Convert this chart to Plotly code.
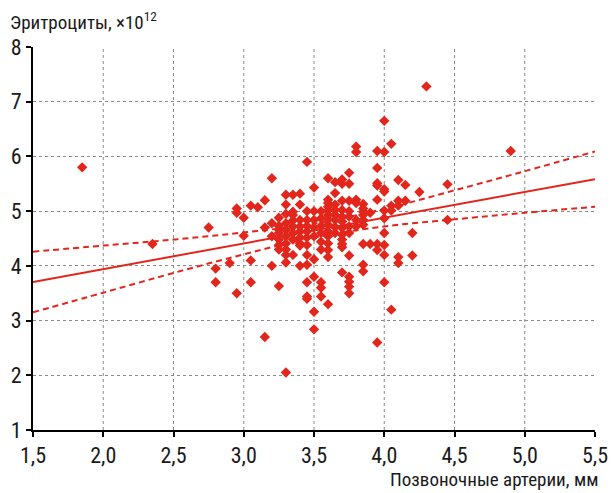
import plotly.graph_objects as go

# Vertebral artery diameter (mm) vs erythrocytes (x10^12)
artery_mm = [
    1.85, 2.35, 2.75, 2.8, 2.8, 2.9, 2.95, 2.95, 2.95, 3.0, 3.0,
    3.05, 3.05, 3.05, 3.1, 3.15, 3.15, 3.15,
    3.2, 3.2, 3.2, 3.2,
    3.25, 3.25, 3.25, 3.25, 3.25, 3.25, 3.25, 3.25,
    3.3, 3.3, 3.3, 3.3, 3.3, 3.3, 3.3, 3.3, 3.3, 3.3, 3.3,
    3.35, 3.35, 3.35, 3.35, 3.35, 3.35, 3.35, 3.35,
    3.4, 3.4, 3.4, 3.4, 3.4, 3.4, 3.4, 3.4, 3.4,
    3.45, 3.45, 3.45, 3.45, 3.45, 3.45, 3.45, 3.45, 3.45, 3.45, 3.45, 3.45,
    3.5, 3.5, 3.5, 3.5, 3.5, 3.5, 3.5, 3.5, 3.5,
    3.55, 3.55, 3.55, 3.55, 3.55, 3.55, 3.55, 3.55, 3.55,
    3.6, 3.6, 3.6, 3.6, 3.6, 3.6, 3.6, 3.6, 3.6, 3.6, 3.6, 3.6, 3.6, 3.6,
    3.65, 3.65, 3.65, 3.65, 3.65, 3.65, 3.65, 3.65,
    3.7, 3.7, 3.7, 3.7, 3.7, 3.7, 3.7, 3.7, 3.7, 3.7, 3.7, 3.7,
    3.75, 3.75, 3.75, 3.75, 3.75, 3.75, 3.75, 3.75, 3.75, 3.75, 3.75, 3.75,
    3.8, 3.8, 3.8, 3.8, 3.8, 3.8,
    3.85, 3.85, 3.85, 3.85, 3.85, 3.85, 3.85, 3.85, 3.85,
    3.9, 3.9,
    3.95, 3.95, 3.95, 3.95, 3.95, 3.95, 3.95, 3.95,
    4.0, 4.0, 4.0, 4.0, 4.0, 4.0, 4.0, 4.0, 4.0, 4.0,
    4.05, 4.05, 4.05, 4.05,
    4.1, 4.1, 4.1, 4.1, 4.1,
    4.15, 4.15, 4.2, 4.2, 4.25, 4.3, 4.45, 4.45, 4.9,
]
erythrocytes = [
    5.8, 4.4, 4.7, 3.95, 3.7, 4.05, 5.05, 4.97, 3.5, 4.88, 4.55,
    5.1, 4.1, 3.7, 5.07, 5.2, 4.7, 2.7,
    5.6, 4.78, 4.0, 4.54,
    4.88, 4.73, 4.66, 4.6, 4.48, 4.38, 4.3, 3.63,
    5.3, 5.12, 4.95, 4.78, 4.66, 4.54, 4.41, 4.3, 4.2, 4.06, 2.05,
    5.3, 4.99, 4.93, 4.83, 4.72, 4.6, 4.48, 4.2,
    5.32, 5.12, 4.84, 4.72, 4.63, 4.52, 4.41, 4.37, 4.0,
    5.9, 5.0, 4.84, 4.73, 4.63, 4.52, 4.38, 4.2, 4.02, 3.7, 3.44, 3.4,
    5.43, 5.0, 4.84, 4.7, 4.54, 4.12, 3.8, 3.16, 2.84,
    5.0, 4.87, 4.73, 4.6, 4.44, 4.3, 3.7, 3.6, 3.44,
    5.6, 5.21, 5.15, 5.08, 5.01, 4.93, 4.85, 4.75, 4.63, 4.54, 4.41, 4.29, 4.16, 3.3,
    5.53, 5.33, 5.12, 5.02, 4.93, 4.84, 4.71, 4.6,
    5.58, 5.5, 5.19, 5.02, 4.9, 4.81, 4.69, 4.57, 4.48, 4.4, 4.34, 3.88,
    5.7, 5.5, 5.19, 5.0, 4.9, 4.72, 4.6, 4.19, 3.8, 3.71, 3.62, 3.5,
    6.18, 6.08, 5.21, 5.15, 4.84, 4.72,
    5.13, 5.05, 4.99, 4.93, 4.84, 4.75, 4.4, 4.02, 3.9,
    4.97, 4.4,
    6.1, 5.79, 5.51, 5.47, 5.21, 4.4, 4.29, 2.6,
    6.65, 6.08, 5.4, 5.36, 5.01, 4.87, 4.6, 4.38, 4.2, 3.7,
    6.23, 5.1, 5.01, 3.2,
    5.57, 5.19, 5.1, 4.16, 4.05,
    5.48, 5.19, 4.6, 4.19, 5.35, 7.28, 5.49, 4.84, 6.1,
]

# Regression line and its confidence band
fit_x = [1.5, 5.5]
fit_y = [3.705, 5.585]
band_x = [1.5, 2.0, 2.5, 3.0, 3.5, 4.0, 4.5, 5.0, 5.5]
band_upper = [4.26, 4.37, 4.48, 4.61, 4.77, 5.04, 5.38, 5.73, 6.09]
band_lower = [3.15, 3.51, 3.87, 4.21, 4.52, 4.72, 4.85, 4.97, 5.08]

x_ticks = [1.5, 2.0, 2.5, 3.0, 3.5, 4.0, 4.5, 5.0, 5.5]
x_tick_text = ["1,5", "2,0", "2,5", "3,0", "3,5", "4,0", "4,5", "5,0", "5,5"]
y_ticks = [1, 2, 3, 4, 5, 6, 7, 8]

RED = "#e3261c"
INK = "#1a1a1a"
FONT = "Roboto Condensed, DejaVu Sans Condensed, Liberation Sans Narrow, Roboto, sans-serif"

fig = go.Figure()
fig.add_trace(go.Scatter(
    x=artery_mm, y=erythrocytes, mode="markers",
    marker=dict(symbol="diamond", size=8, color=RED, line=dict(width=0)),
    showlegend=False, hoverinfo="x+y", cliponaxis=False,
))
fig.add_trace(go.Scatter(
    x=fit_x, y=fit_y, mode="lines",
    line=dict(color=RED, width=2), showlegend=False,
))
for band in (band_upper, band_lower):
    fig.add_trace(go.Scatter(
        x=band_x, y=band, mode="lines", line_shape="spline",
        line=dict(color=RED, width=2, dash="6px,4px"), showlegend=False,
    ))

# Dotted vertical grid lines at the inner x ticks only
grid_color = "#8a8a8a"
shapes = [
    dict(type="line", xref="x", yref="paper", x0=v, x1=v, y0=0, y1=1,
         line=dict(color=grid_color, width=1, dash="dot"), layer="below")
    for v in x_ticks[1:-1]
]

fig.update_xaxes(
    range=[1.5, 5.5], tickvals=x_ticks, ticktext=x_tick_text,
    showline=True, linecolor="black", linewidth=2,
    ticks="outside", ticklen=5, tickwidth=2, tickcolor="black",
    tickfont=dict(family=FONT, size=22, color=INK),
    zeroline=False, showgrid=False, automargin=False,
)
fig.update_yaxes(
    range=[1, 8], tickvals=y_ticks,
    showline=True, linecolor="black", linewidth=2,
    ticks="outside", ticklen=5, tickwidth=2, tickcolor="black",
    tickfont=dict(family=FONT, size=22, color=INK),
    zeroline=False, showgrid=True, gridcolor=grid_color, gridwidth=1,
    griddash="dot", automargin=False,
)
fig.update_layout(
    width=611, height=493,
    margin=dict(l=33, r=16, t=47, b=63),
    plot_bgcolor="white", paper_bgcolor="white",
    font=dict(family=FONT, color=INK),
    shapes=shapes,
    annotations=[
        dict(text="Эритроциты, ×10<sup>12</sup>", xref="paper", yref="paper",
             x=-0.044, y=1.066, xanchor="left", yanchor="middle",
             showarrow=False, font=dict(family=FONT, size=19, color=INK)),
        dict(text="Позвоночные артерии, мм", xref="paper", yref="paper",
             x=1.009, y=-0.13, xanchor="right", yanchor="middle",
             showarrow=False, font=dict(family=FONT, size=19, color=INK)),
    ],
)

fig.write_html("out.html")
